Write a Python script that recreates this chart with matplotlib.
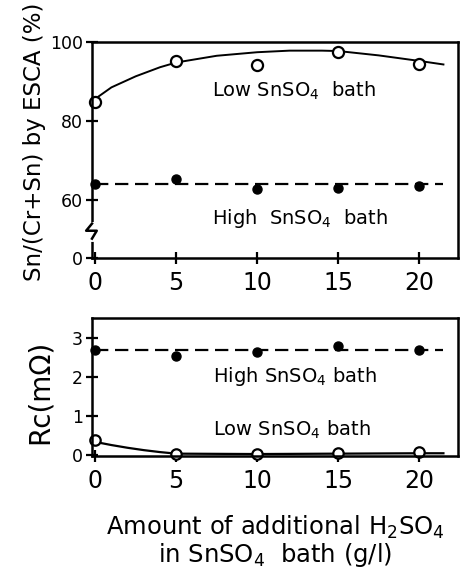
import numpy as np
import matplotlib
matplotlib.use('Agg')
import matplotlib.pyplot as plt
import matplotlib.transforms as mtransforms

plt.rcParams['font.family'] = 'DejaVu Sans'
plt.rcParams['mathtext.default'] = 'regular'

# data
x_pts = [0, 5, 10, 15, 20]
esca_low = [84.9, 95.2, 94.1, 97.5, 94.3]
esca_high = [64.1, 65.4, 62.7, 63.1, 63.5]
esca_high_level = 64.1
esca_low_curve_x = [0, 1, 2.5, 4, 5, 7.5, 10, 12, 14, 15, 17.5, 20, 21.5]
esca_low_curve_y = [85.6, 88.5, 91.3, 93.6, 94.8, 96.5, 97.4, 97.8, 97.8, 97.7, 96.6, 95.2, 94.3]

rc_high = [2.67, 2.52, 2.62, 2.78, 2.67]
rc_low = [0.38, 0.02, 0.03, 0.04, 0.06]
rc_high_level = 2.68
rc_low_curve_x = [0, 1, 2, 3, 4, 5, 10, 15, 20, 21.5]
rc_low_curve_y = [0.33, 0.25, 0.18, 0.12, 0.07, 0.03, 0.02, 0.03, 0.04, 0.04]

xticks = [0, 5, 10, 15, 20]
esca_ticks = [45.3, 60, 80, 100]
esca_ticklabels = ['0', '60', '80', '100']
rc_ticks = [0, 1, 2, 3]

fig = plt.figure(figsize=(4.63, 5.70), dpi=100)
ax1 = fig.add_axes([0.1987, 0.5474, 0.7905, 0.379])
ax2 = fig.add_axes([0.1987, 0.200, 0.7905, 0.2421])

for ax in (ax1, ax2):
    for sp in ax.spines.values():
        sp.set_linewidth(1.8)
    ax.set_xlim(-0.2, 22.4)
    ax.set_xticks(xticks)
    ax.tick_params(axis='both', direction='inout', length=9, width=1.6)
    ax.tick_params(axis='x', labelsize=17, pad=5)
    ax.tick_params(axis='y', labelsize=12.5, pad=2)

# top panel
ax1.set_ylim(45.3, 100)
ax1.set_yticks(esca_ticks)
ax1.set_yticklabels(esca_ticklabels)
ax1.plot(esca_low_curve_x, esca_low_curve_y, color='black', lw=1.4)
ax1.plot([0, 21.5], [esca_high_level, esca_high_level], color='black', lw=1.6,
         dashes=(6, 3))
ax1.plot(x_pts, esca_low, 'o', ms=8, mfc='white', mec='black', mew=1.6, clip_on=False)
ax1.plot(x_pts, esca_high, 'o', ms=6.5, color='black', clip_on=False)
ax1.text(7.2, 87.6, 'Low SnSO$_4$  bath', fontsize=14, va='center', ha='left')
ax1.text(7.2, 55.4, 'High  SnSO$_4$  bath', fontsize=14, va='center', ha='left')
ax1.set_ylabel('Sn/(Cr+Sn) by ESCA (%)', fontsize=16.5)
ax1.yaxis.set_label_coords(-0.126, 0.537)

# axis break on the left spine
trans = mtransforms.blended_transform_factory(ax1.transAxes, ax1.transData)
ax1.plot([0, 0], [50.2, 54.0], color='white', lw=3.5, transform=trans, clip_on=False, zorder=5)
ax1.plot([0, -0.016, 0.013, 0], [54.0, 52.2, 52.2, 50.2], color='black', lw=1.8,
         transform=trans, clip_on=False, zorder=6)

# bottom panel
ax2.set_ylim(-0.03, 3.5)
ax2.set_yticks(rc_ticks)
ax2.plot(rc_low_curve_x, rc_low_curve_y, color='black', lw=1.6)
ax2.plot([0, 21.5], [rc_high_level, rc_high_level], color='black', lw=1.6,
         dashes=(6, 3))
ax2.plot(x_pts, rc_low, 'o', ms=7.5, mfc='white', mec='black', mew=1.6, clip_on=False)
ax2.plot(x_pts, rc_high, 'o', ms=6.5, color='black', clip_on=False)
ax2.text(7.3, 2.0, 'High SnSO$_4$ bath', fontsize=14, va='center', ha='left')
ax2.text(7.3, 0.65, 'Low SnSO$_4$ bath', fontsize=14, va='center', ha='left')
ax2.set_ylabel('Rc(m\u03a9)', fontsize=20)
ax2.yaxis.set_label_coords(-0.104, 0.464)
ax2.set_xlabel('Amount of additional H$_2$SO$_4$\nin SnSO$_4$  bath (g/l)', fontsize=17.5,
               labelpad=15, linespacing=1.0)

fig.savefig('out.png', dpi=100)
